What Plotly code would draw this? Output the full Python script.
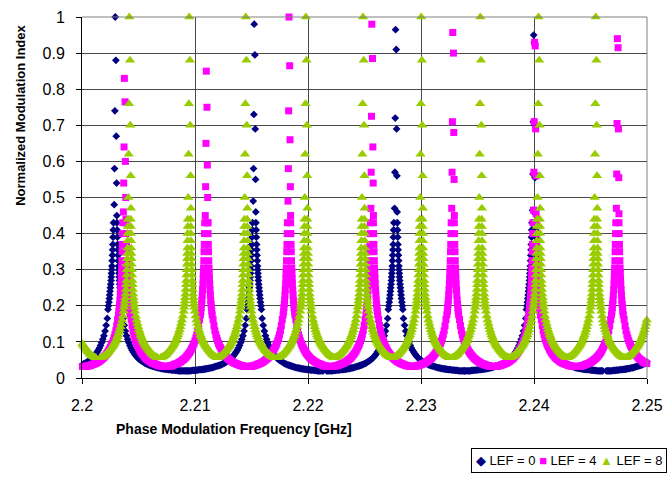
import plotly.graph_objects as go

# Frequency window shown on the x axis (GHz)
X_MIN, X_MAX = 2.2, 2.25
MHZ = 1e-3  # GHz per MHz

# Offsets (MHz) of the sparse points near each resonance crest
crest_offsets = [0.0, 0.06, -0.03, 0.09, -0.06, 0.12, -0.09, 0.14]

# ---- LEF = 0 ----
lef0_centers = [2.20294, 2.21524, 2.22775, 2.23997]
lef0_crests = [
    [1.0, 0.88, 0.74, 0.67, 0.58, 0.54, 0.48, 0.45],
    [0.98, 0.895, 0.73, 0.69, 0.58, 0.55, 0.49, 0.46],
    [0.965, 0.91, 0.72, 0.69, 0.57, 0.56, 0.47, 0.46],
    [0.95, 0.93, 0.71, 0.70, 0.565, 0.555, 0.465, 0.455],
]
lef0_edge_centers = [2.2525]
# upper flank: offset (MHz) and level
lef0_upper_mhz = [0.15, 0.17, 0.19, 0.21, 0.23, 0.25, 0.27, 0.29, 0.31, 0.33, 0.35,
                  0.37, 0.40, 0.43, 0.46, 0.49, 0.52, 0.56, 0.60, 0.64]
lef0_upper_vals = [0.43, 0.41, 0.39, 0.37, 0.355, 0.34, 0.325, 0.31, 0.30, 0.29, 0.28,
                   0.27, 0.26, 0.25, 0.24, 0.23, 0.22, 0.21, 0.20, 0.19]
# lower flank / trough: levels every 0.1 MHz starting 0.7 MHz from the crest
lef0_tail_start, lef0_tail_step = 0.7, 0.1
lef0_tail_vals = [0.165, 0.146, 0.130, 0.117, 0.107, 0.098, 0.090, 0.083, 0.077, 0.072,
                  0.067, 0.063, 0.059, 0.056, 0.053, 0.050, 0.048, 0.046, 0.044, 0.042,
                  0.040, 0.039, 0.037, 0.036, 0.035, 0.034, 0.033, 0.032, 0.031, 0.030,
                  0.029, 0.028, 0.028, 0.027, 0.026, 0.026, 0.025, 0.025, 0.024, 0.024,
                  0.023, 0.023, 0.023, 0.022, 0.022, 0.022, 0.021, 0.021, 0.021, 0.020,
                  0.020, 0.020, 0.020, 0.020, 0.020]

# ---- LEF = 4 ----
lef4_centers = [2.20375, 2.21100, 2.21832, 2.22565, 2.23281, 2.24005, 2.24738]
lef4_crests = [
    [0.83, 0.765, 0.64, 0.60, 0.54, 0.50, 0.46, 0.44],
    [0.85, 0.75, 0.65, 0.59, 0.53, 0.50, 0.45, 0.43],
    [1.0, 0.865, 0.74, 0.66, 0.58, 0.53, 0.49, 0.45],
    [0.98, 0.885, 0.725, 0.64, 0.57, 0.54, 0.47, 0.45],
    [0.957, 0.90, 0.71, 0.68, 0.57, 0.55, 0.47, 0.45],
    [0.93, 0.92, 0.71, 0.69, 0.57, 0.56, 0.465, 0.455],
    [0.94, 0.915, 0.705, 0.69, 0.565, 0.555, 0.47, 0.455],
]
lef4_edge_centers = [2.19648]
lef4_upper_mhz = [0.14, 0.16, 0.18, 0.20, 0.22, 0.24, 0.26, 0.28, 0.30, 0.33, 0.36,
                  0.39, 0.42, 0.45, 0.48]
lef4_upper_vals = [0.43, 0.40, 0.37, 0.35, 0.325, 0.305, 0.29, 0.275, 0.26, 0.245, 0.23,
                   0.215, 0.205, 0.195, 0.185]
lef4_tail_start, lef4_tail_step = 0.52, 0.08
lef4_tail_vals = [0.175, 0.162, 0.145, 0.131, 0.120, 0.111, 0.103, 0.096, 0.090, 0.085,
                  0.080, 0.075, 0.071, 0.067, 0.064, 0.061, 0.058, 0.055, 0.053, 0.051,
                  0.049, 0.047, 0.045, 0.044, 0.042, 0.041, 0.040, 0.039, 0.038, 0.037,
                  0.036, 0.035, 0.034, 0.034, 0.033, 0.033, 0.032, 0.032, 0.032]

# ---- LEF = 8 ----
lef8_centers = [2.20419, 2.20949, 2.21449, 2.21981, 2.22487, 2.23002, 2.23525, 2.24040, 2.24546]
lef8_crests = [[1.0, 0.88, 0.76, 0.70, 0.62, 0.56, 0.50, 0.47]] * len(lef8_centers)
lef8_edge_centers = [2.19870, 2.25062]
lef8_upper_mhz = [0.12, 0.13, 0.14, 0.15, 0.16, 0.175, 0.19, 0.205, 0.22, 0.24, 0.26,
                  0.28, 0.30, 0.33, 0.36, 0.39, 0.42, 0.45]
lef8_upper_vals = [0.44, 0.42, 0.40, 0.38, 0.36, 0.345, 0.33, 0.315, 0.30, 0.285, 0.27,
                   0.258, 0.245, 0.233, 0.222, 0.213, 0.204, 0.196]
lef8_tail_start, lef8_tail_step = 0.5, 0.07
lef8_tail_vals = [0.185, 0.172, 0.161, 0.151, 0.142, 0.134, 0.127, 0.120, 0.114, 0.108,
                  0.103, 0.099, 0.095, 0.091, 0.088, 0.085, 0.082, 0.079, 0.076, 0.073,
                  0.071, 0.068, 0.066, 0.064, 0.062, 0.060, 0.059, 0.058, 0.057, 0.056]

legend_names = ["LEF = 0", "LEF = 4", "LEF = 8"]
colors = ["#000080", "#FF00FF", "#99CC00"]


def assemble(centers, crests, edge_centers, upper_mhz, upper_vals,
             tail_start, tail_step, tail_vals):
    """Place crest points and mirrored flank points around every resonance."""
    flank = list(zip(upper_mhz, upper_vals))
    flank += [(tail_start + k * tail_step, v) for k, v in enumerate(tail_vals)]
    pts = []
    for c, crest in zip(centers, crests):
        for o, v in zip(crest_offsets, crest):
            pts.append((c + o * MHZ, v))
    for c in list(centers) + list(edge_centers):
        for o, v in flank:
            pts.append((c - o * MHZ, v))
            pts.append((c + o * MHZ, v))
    pts = sorted(p for p in pts if X_MIN <= p[0] <= X_MAX)
    return [p[0] for p in pts], [p[1] for p in pts]


series = [
    assemble(lef0_centers, lef0_crests, lef0_edge_centers, lef0_upper_mhz, lef0_upper_vals,
             lef0_tail_start, lef0_tail_step, lef0_tail_vals),
    assemble(lef4_centers, lef4_crests, lef4_edge_centers, lef4_upper_mhz, lef4_upper_vals,
             lef4_tail_start, lef4_tail_step, lef4_tail_vals),
    assemble(lef8_centers, lef8_crests, lef8_edge_centers, lef8_upper_mhz, lef8_upper_vals,
             lef8_tail_start, lef8_tail_step, lef8_tail_vals),
]
symbols = ["diamond", "square", "triangle-up"]
sizes = [6, 7, 9]

fig = go.Figure()
for (xs, ys), name, col, sym, sz in zip(series, legend_names, colors, symbols, sizes):
    fig.add_trace(go.Scatter(
        x=xs, y=ys, mode="markers", name=name, cliponaxis=False,
        marker=dict(symbol=sym, size=sz, color=col, line=dict(width=0)),
    ))

FONT = "Arial, Liberation Sans, sans-serif"
axis_common = dict(
    showgrid=True, gridcolor="#4a4a4a", gridwidth=1,
    showline=True, linecolor="black", linewidth=1,
    ticks="outside", ticklen=5, tickcolor="black",
    tickfont=dict(family=FONT, size=16, color="black"),
    zeroline=False,
)

fig.update_layout(
    width=672, height=481,
    margin=dict(l=82, r=17, t=9, b=103),
    paper_bgcolor="white", plot_bgcolor="white",
    showlegend=False,
    xaxis=dict(range=[X_MIN, X_MAX], tick0=2.2, dtick=0.01, ticklabelstandoff=8, **axis_common),
    yaxis=dict(range=[0, 1], tick0=0, dtick=0.1, ticklabelstandoff=8, **axis_common),
    shapes=[
        dict(type="line", xref="paper", yref="paper", x0=0, x1=1, y0=1, y1=1,
             line=dict(color="#808080", width=1)),
        dict(type="line", xref="paper", yref="paper", x0=1, x1=1, y0=0, y1=1,
             line=dict(color="#808080", width=1)),
    ],
    annotations=[
        dict(text="<b>Normalized Modulation Index</b>", xref="paper", yref="paper",
             x=-0.108, y=0.729, textangle=-90, showarrow=False,
             xanchor="center", yanchor="middle",
             font=dict(family=FONT, size=13, color="black")),
        dict(text="<b>Phase Modulation Frequency [GHz]</b>", xref="paper", yref="paper",
             x=0.2696, y=-0.141, showarrow=False, xanchor="center", yanchor="middle",
             font=dict(family=FONT, size=14, color="black")),
        dict(text=("<span style='color:%s'>◆</span> %s "
                   "<span style='color:%s'>■</span> %s "
                   "<span style='color:%s'>▲</span> %s")
             % (colors[0], legend_names[0], colors[1], legend_names[1],
                colors[2], legend_names[2]),
             xref="paper", yref="paper", x=1.036, y=-0.2276,
             xanchor="right", yanchor="middle", showarrow=False,
             bordercolor="black", borderwidth=1, borderpad=4, bgcolor="white",
             font=dict(family=FONT, size=13, color="black")),
    ],
)

fig.write_html("out.html")
